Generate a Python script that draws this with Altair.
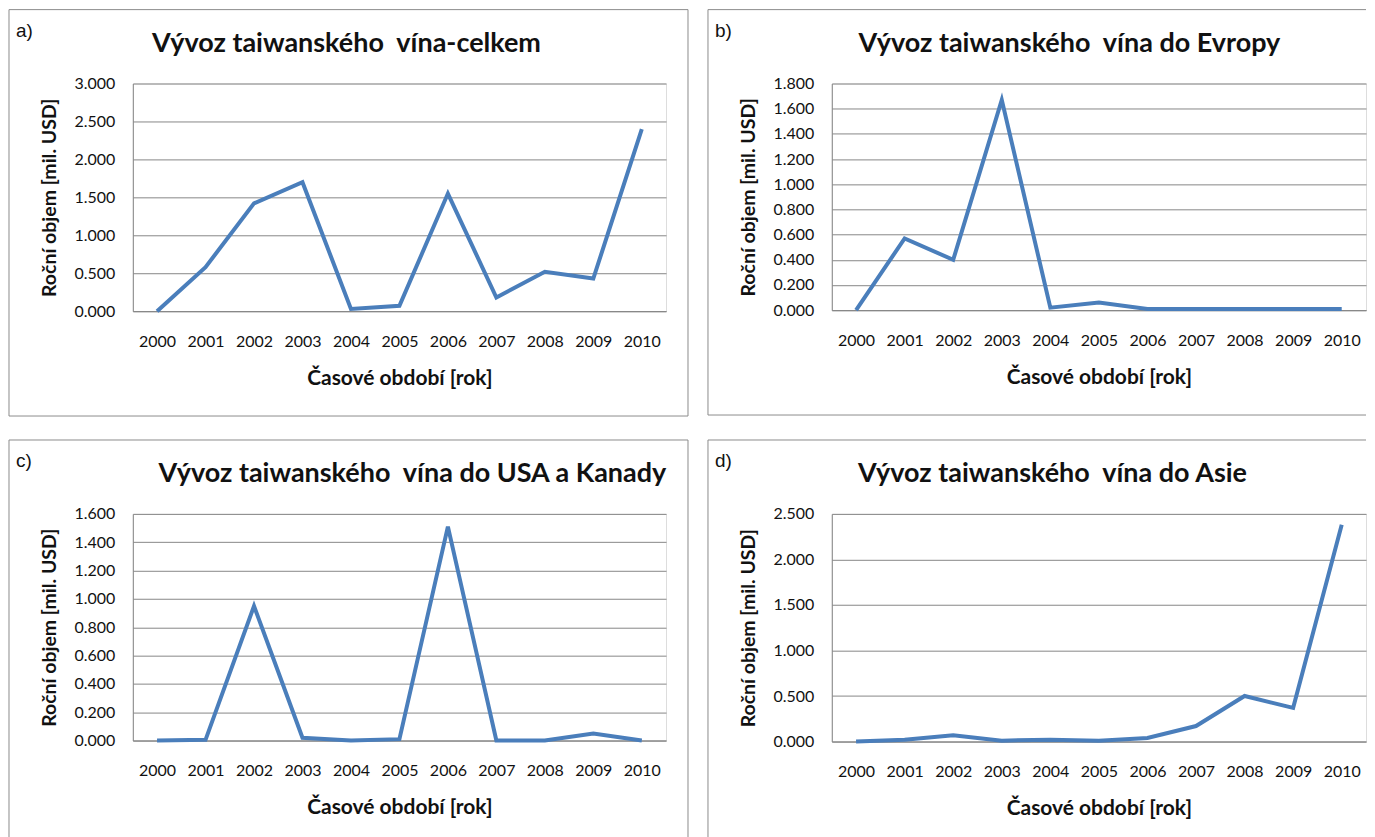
import altair as alt
import pandas as pd

# ---- data ----
years = ["2000", "2001", "2002", "2003", "2004", "2005", "2006", "2007", "2008", "2009", "2010"]
total = [0.0, 0.58, 1.42, 1.70, 0.03, 0.07, 1.55, 0.18, 0.52, 0.43, 2.40]
europe = [0.0, 0.57, 0.40, 1.67, 0.02, 0.06, 0.01, 0.01, 0.01, 0.01, 0.01]
usa_canada = [0.0, 0.005, 0.95, 0.02, 0.0, 0.01, 1.51, 0.0, 0.0, 0.05, 0.0]
asia = [0.0, 0.02, 0.07, 0.01, 0.02, 0.01, 0.04, 0.17, 0.50, 0.37, 2.38]

titles = [
    "Vývoz taiwanského\u00a0 vína-celkem",
    "Vývoz taiwanského\u00a0 vína do Evropy",
    "Vývoz taiwanského\u00a0 vína do USA a Kanady",
    "Vývoz taiwanského\u00a0 vína do Asie",
]
letters = ["a)", "b)", "c)", "d)"]
y_ticks = [
    [0.0, 0.5, 1.0, 1.5, 2.0, 2.5, 3.0],
    [0.0, 0.2, 0.4, 0.6, 0.8, 1.0, 1.2, 1.4, 1.6, 1.8],
    [0.0, 0.2, 0.4, 0.6, 0.8, 1.0, 1.2, 1.4, 1.6],
    [0.0, 0.5, 1.0, 1.5, 2.0, 2.5],
]
y_title = "Roční objem [mil. USD]"
x_title = "Časové období [rok]"

FONT = "Lato"
GRID = "#878787"
BORDER = "#8c8c8c"
LINE = "#4A7EBB"
TXT = "#111111"


def rule(x1, x2, y1, y2):
    return alt.Chart(alt.Data(values=[{}])).mark_rule(color=BORDER, strokeWidth=1).encode(
        x=alt.value(x1), x2=alt.value(x2), y=alt.value(y1), y2=alt.value(y2)
    )


def label(txt, x, y, size, weight, font=FONT, align="left"):
    return alt.Chart(alt.Data(values=[{}])).mark_text(
        font=font, fontSize=size, fontWeight=weight, align=align, baseline="alphabetic", color=TXT
    ).encode(x=alt.value(x), y=alt.value(y), text=alt.value(txt))


def panel(values, idx, W, H, title_cx, right_border, bottom_border):
    df = pd.DataFrame({"year": years, "value": values})
    ticks = y_ticks[idx]
    line = alt.Chart(df).mark_line(color=LINE, strokeWidth=4).encode(
        x=alt.X(
            "year:O",
            sort=years,
            scale=alt.Scale(type="point", padding=0.5),
            axis=alt.Axis(
                title=x_title, labelAngle=0, ticks=False, grid=False, labelPadding=22,
                labelFontSize=16, labelFont=FONT, labelColor=TXT,
                titleFont=FONT, titleFontSize=21, titleFontWeight="bold", titleColor=TXT,
                titlePadding=18, domainColor=GRID,
            ),
        ),
        y=alt.Y(
            "value:Q",
            scale=alt.Scale(domain=[ticks[0], ticks[-1]], nice=False, zero=True),
            axis=alt.Axis(
                title=y_title, values=ticks, format=".3f", ticks=False, grid=True, gridColor=GRID,
                labelPadding=18, labelFontSize=16, labelFont=FONT, labelColor=TXT,
                titleFont=FONT, titleFontSize=19.5, titleFontWeight="bold", titleColor=TXT,
                titlePadding=15, domainColor=GRID,
            ),
        ),
    )
    right = right_border if right_border is not None else W
    layers = [
        rule(-124, -124, -74, H + 105 if bottom_border else H + 110),
        rule(-124, right, -74, -74),
    ]
    if right_border is not None:
        layers.append(rule(right_border, right_border, -74, H + 105 if bottom_border else H + 110))
    if bottom_border:
        layers.append(rule(-124, right, H + 105, H + 105))
    layers += [
        label(letters[idx], -117, -47, 19, "normal", font="Liberation Sans"),
        label(titles[idx], title_cx, -32, 27, "bold", align="center"),
        line,
    ]
    return alt.layer(*layers).properties(width=W, height=H)


pa = panel(total, 0, 534, 228, 214, 556, True)
pb = panel(europe, 1, 535, 227, 238, None, True)
pc = panel(usa_canada, 2, 534, 227, 280, 556, False)
pd_ = panel(asia, 3, 535, 228, 221, None, False)

row1 = alt.hconcat(pa, pb, spacing=18)
row2 = alt.hconcat(pc, pd_, spacing=18)
chart = alt.vconcat(row1, row2, spacing=22).properties(
    padding={"left": 0, "top": 0, "right": 0, "bottom": 0}
).configure_view(strokeWidth=0).configure(background="white")

chart.save("out.html", embed_options={"renderer": "svg", "actions": False})
